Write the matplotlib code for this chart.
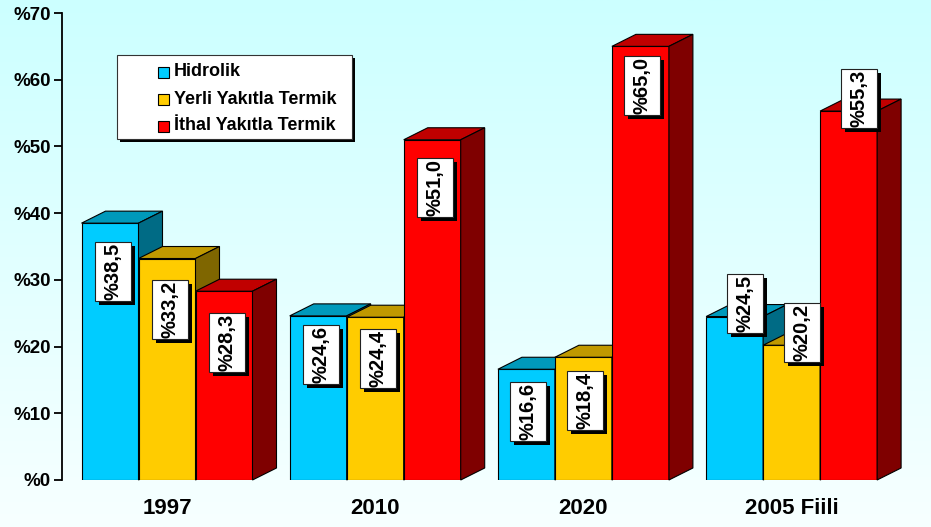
import numpy as np
import matplotlib
matplotlib.use('Agg')
import matplotlib.pyplot as plt
from matplotlib.patches import Polygon, Rectangle
from matplotlib.transforms import Affine2D, ScaledTranslation
from matplotlib.colors import LinearSegmentedColormap

plt.rcParams['font.family'] = ['Liberation Sans', 'DejaVu Sans']
plt.rcParams['font.weight'] = 'bold'

# data
groups = ['1997', '2010', '2020', '2005 Fiili']
series_names = ['Hidrolik', 'Yerli Yakıtla Termik', 'İthal Yakıtla Termik']
hidrolik = [38.5, 24.6, 16.6, 24.5]
yerli = [33.2, 24.4, 18.4, 20.2]
ithal = [28.3, 51.0, 65.0, 55.3]
y_ticks = [0, 10, 20, 30, 40, 50, 60, 70]

front_colors = ['#00CCFF', '#FFCC00', '#FF0000']
top_colors = ['#0099BB', '#C09900', '#C00000']
side_colors = ['#006B85', '#7F6600', '#7F0000']

# value label boxes (pixels): drop below bar top, shift right of bar centre
label_drop = [[19, 21, 22], [9, 12, 18], [13, 14, 10], [-43, -42, -42]]
label_shift = [3, 3, 2, 10]

W, H, DPI = 931, 527, 100
fig = plt.figure(figsize=(W / DPI, H / DPI), dpi=DPI)

# background gradient
bg = fig.add_axes([0, 0, 1, 1], zorder=-10)
bg_cmap = LinearSegmentedColormap.from_list('bg', ['#CCFFFF', '#F7FFFF'])
bg.imshow(np.linspace(0, 1, 256).reshape(-1, 1), aspect='auto', cmap=bg_cmap,
          extent=[0, 1, 0, 1], origin='upper')
bg.axis('off')

# plot area (pixel layout)
left_px, right_px, top_px, bottom_px = 62, 931, 13, 480
ax = fig.add_axes([left_px / W, 1 - bottom_px / H,
                   (right_px - left_px) / W, (bottom_px - top_px) / H])
ax.patch.set_alpha(0)

step_px, first_center_px, bar_px = 208.2, 167, 57
depth_px = (24, 12)
ax.set_xlim((left_px - first_center_px) / step_px, (right_px - first_center_px) / step_px)
ax.set_ylim(0, 70)
px_y = (bottom_px - top_px) / 70
bw = bar_px / step_px
dx = depth_px[0] / step_px
dy = depth_px[1] / px_y

values = [hidrolik, yerli, ithal]
x = np.arange(len(groups))
z = 2
for g in range(len(groups)):
    for s in range(len(series_names)):
        v = values[s][g]
        xc = x[g] + (s - 1) * bw
        x0, x1 = xc - bw / 2, xc + bw / 2
        ax.bar(xc, v, width=bw, color=front_colors[s], edgecolor='black',
               linewidth=0.8, zorder=z)
        ax.add_patch(Polygon([(x0, v), (x1, v), (x1 + dx, v + dy), (x0 + dx, v + dy)],
                             closed=True, facecolor=top_colors[s], edgecolor='black',
                             linewidth=0.8, zorder=z, clip_on=False))
        ax.add_patch(Polygon([(x1, 0), (x1 + dx, dy), (x1 + dx, v + dy), (x1, v)],
                             closed=True, facecolor=side_colors[s], edgecolor='black',
                             linewidth=0.8, zorder=z, clip_on=False))
        z += 1

# value labels in white boxes with black shadow
box_w, box_h, shadow = 36, 59, 4
for g in range(len(groups)):
    for s in range(len(series_names)):
        v = values[s][g]
        xc = x[g] + (s - 1) * bw
        tr = fig.dpi_scale_trans + ScaledTranslation(xc, v, ax.transData)
        cx = label_shift[g]
        ty = -label_drop[g][s]
        ax.add_patch(Rectangle(((cx - box_w / 2 + shadow) / DPI, (ty - box_h - shadow) / DPI),
                               box_w / DPI, box_h / DPI, transform=tr, facecolor='black',
                               edgecolor='none', zorder=40, clip_on=False))
        ax.add_patch(Rectangle(((cx - box_w / 2) / DPI, (ty - box_h) / DPI),
                               box_w / DPI, box_h / DPI, transform=tr, facecolor='white',
                               edgecolor='#222222', linewidth=0.8, zorder=41, clip_on=False))
        label = '%' + f'{v:.1f}'.replace('.', ',')
        ax.text(cx / DPI, (ty - box_h / 2) / DPI, label, transform=tr, rotation=90,
                ha='center', va='center', fontsize=14.5, fontweight='bold',
                zorder=42, clip_on=False)

# axes styling
for side in ['top', 'right', 'bottom']:
    ax.spines[side].set_visible(False)
ax.spines['left'].set_linewidth(1.3)
ax.set_yticks(y_ticks, [f'%{t}' for t in y_ticks])
ax.tick_params(axis='y', direction='out', length=6, width=1.3, pad=2, labelsize=13.5)
ax.set_xticks(x, groups)
ax.tick_params(axis='x', length=0, pad=13, labelsize=16)

# legend, drawn by hand in figure pixels
px = Affine2D().scale(1 / W, -1 / H).translate(0, 1) + fig.transFigure
leg_x, leg_y, leg_w, leg_h = 117, 55, 235, 84
fig.add_artist(Rectangle((leg_x + 3, leg_y + 3), leg_w, leg_h, transform=px,
                         facecolor='black', edgecolor='none', zorder=5))
fig.add_artist(Rectangle((leg_x, leg_y), leg_w, leg_h, transform=px,
                         facecolor='white', edgecolor='#333333', linewidth=0.8, zorder=6))
for i, name in enumerate(series_names):
    yc = 72 + 27 * i
    fig.add_artist(Rectangle((158, yc - 5.5), 11, 11, transform=px,
                             facecolor=front_colors[i], edgecolor='black',
                             linewidth=0.8, zorder=7))
    fig.text(174, yc, name, transform=px, ha='left', va='center',
             fontsize=13, fontweight='bold', zorder=8)

fig.savefig('out.png', dpi=DPI)
